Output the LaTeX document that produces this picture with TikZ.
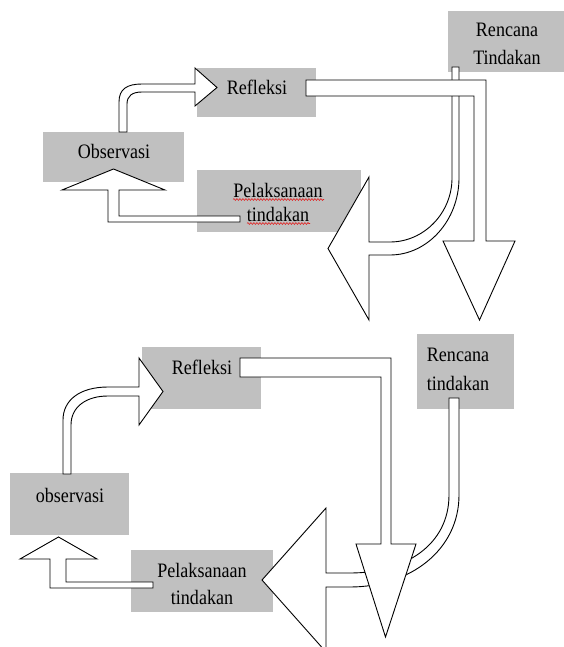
\documentclass[tikz,border=0pt]{standalone}
\usepackage{fontspec}
\setmainfont[FakeStretch=0.88]{Liberation Serif}
\usetikzlibrary{decorations.pathmorphing}
\definecolor{boxgray}{RGB}{192,192,192}
\definecolor{spellred}{RGB}{225,30,30}
\tikzset{
  box/.style={fill=boxgray, draw=none, inner sep=0pt},
  lbl/.style={font=\fontsize{20.5}{24}\selectfont, anchor=base, inner sep=0pt},
  blockarrow/.style={fill=white, draw=black, line width=0.9pt, line join=miter},
  wavy/.style={draw=spellred, line width=0.6pt, decorate, decoration={snake, amplitude=0.9pt, segment length=3pt}}
}
\begin{document}
\begin{tikzpicture}[x=1pt,y=-1pt]
\useasboundingbox (0,0) rectangle (564,647);

% ---------- upper cycle: boxes ----------
\node[box, minimum width=116, minimum height=61] (ren1) at (506,41.5) {};
\node[box, minimum width=119, minimum height=49] (ref1) at (256.5,92.5) {};
\node[box, minimum width=141, minimum height=50] (obs1) at (113.5,157) {};
\node[box, minimum width=164, minimum height=62] (pel1) at (279,201) {};

\node[lbl] (ren1a) at (507,37) {Rencana};
\node[lbl] (ren1b) at (507,65) {Tindakan};
\node[lbl] (ref1t) at (257,95) {Refleksi};
\node[lbl] (obs1t) at (114,158.5) {Observasi};
\node[lbl] (pel1a) at (278,197.5) {Pelaksanaan};
\node[lbl] (pel1b) at (278,221.5) {tindakan};
\draw[wavy] (233,199.5) -- (324,199.5);
\draw[wavy] (247,223.5) -- (310,223.5);

% ---------- upper cycle: arrows ----------
% Rencana -> left (thin, curved)
\draw[blockarrow] (452,67) -- (452,178)
  .. controls (452,213) and (424,242) .. (390,242) -- (369,242) -- (369,177)
  -- (328,248.5) -- (369,320) -- (369,255) -- (390,255)
  .. controls (428,255) and (459,220) .. (459,178) -- (459,67) -- cycle;
% Refleksi -> down (thick, elbow)
\draw[blockarrow] (306,80) -- (486,80) -- (486,241) -- (515,241) -- (479.5,320)
  -- (443,241) -- (474,241) -- (474,96) -- (306,96) -- cycle;
% Observasi -> Refleksi (curved)
\draw[blockarrow] (119,132) -- (119,102)
  .. controls (119,89) and (127,84) .. (142,84) -- (195,84) -- (195,68)
  -- (217,87.5) -- (195,106) -- (195,92) -- (142,92)
  .. controls (132,92) and (127,96) .. (127,104) -- (127,132) -- cycle;
% Pelaksanaan -> Observasi (elbow)
\draw[blockarrow] (240,216) -- (119,216) -- (119,190) -- (165,190) -- (113.5,169)
  -- (62,190) -- (108,190) -- (108,222) -- (240,222) -- cycle;

% ---------- lower cycle: boxes ----------
\node[box, minimum width=119, minimum height=62] (ref2) at (201.5,378) {};
\node[box, minimum width=97, minimum height=75] (ren2) at (465.5,371.5) {};
\node[box, minimum width=119, minimum height=62] (obs2) at (69.5,504) {};
\node[box, minimum width=142, minimum height=62] (pel2) at (202,581) {};

\node[lbl] (ref2t) at (202,374) {Refleksi};
\node[lbl] (ren2a) at (458,361.5) {Rencana};
\node[lbl] (ren2b) at (458,390) {tindakan};
\node[lbl] (obs2t) at (70,502) {observasi};
\node[lbl] (pel2a) at (202,577.5) {Pelaksanaan};
\node[lbl] (pel2b) at (202,604) {tindakan};

% ---------- lower cycle: arrows ----------
% Rencana -> left (thin, curved)
\draw[blockarrow] (449,398) -- (449,495)
  .. controls (449,545) and (405,573) .. (350,573) -- (326,573) -- (326,508)
  -- (262,580) -- (326,652) -- (326,587) -- (350,587)
  .. controls (410,587) and (459,550) .. (459,495) -- (459,398) -- cycle;
% Refleksi -> down (thick, elbow)
\draw[blockarrow] (240,358) -- (391,358) -- (391,544) -- (416,544) -- (385.5,637)
  -- (356,544) -- (381,544) -- (381,377) -- (240,377) -- cycle;
% observasi -> Refleksi (curved)
\draw[blockarrow] (63,474) -- (63,420)
  .. controls (63,400) and (80,387) .. (108,387) -- (139,387) -- (139,358)
  -- (163,391.5) -- (139,425) -- (139,396) -- (108,396)
  .. controls (86,396) and (71,407) .. (71,425) -- (71,474) -- cycle;
% Pelaksanaan -> observasi (elbow)
\draw[blockarrow] (153,582) -- (66,582) -- (66,559) -- (97,559) -- (58.5,537)
  -- (20,559) -- (50,559) -- (50,588) -- (153,588) -- cycle;
\end{tikzpicture}
\end{document}
